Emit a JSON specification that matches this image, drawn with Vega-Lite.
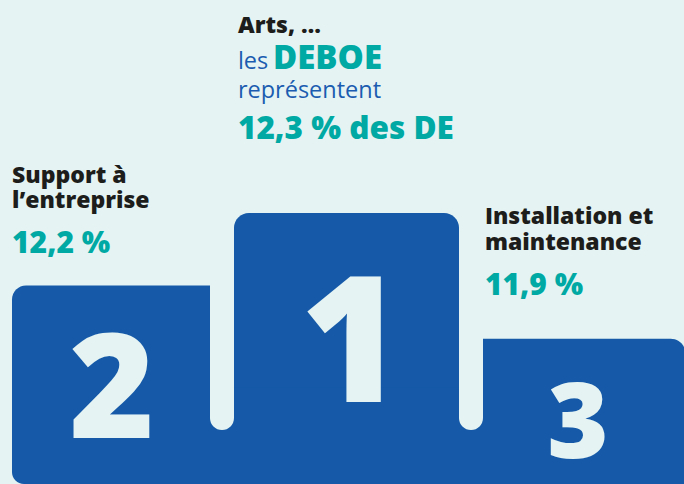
{
  "$schema": "https://vega.github.io/schema/vega-lite/v6.json",
  "width": 684,
  "height": 484,
  "autosize": {"type": "none"},
  "padding": 0,
  "background": "#e5f4f3",
  "config": {"view": {"stroke": null}, "text": {"font": "Open Sans"}},
  "data": {"values": [
    {"rang": "2", "categorie": ["Support à", "l’entreprise"], "valeur": 12.2, "libelle": "12,2 %", "hauteur": 41},
    {"rang": "1", "categorie": ["Arts, …"], "valeur": 12.3, "libelle": "12,3 % des DE", "hauteur": 56},
    {"rang": "3", "categorie": ["Installation et", "maintenance"], "valeur": 11.9, "libelle": "11,9 %", "hauteur": 30}
  ]},
  "layer": [
    {
      "transform": [{"filter": "datum.rang == '2'"}],
      "mark": {"type": "bar", "color": "#1559a8", "cornerRadiusTopLeft": 14, "cornerRadiusBottomLeft": 12},
      "encoding": {
        "x": {"field": "rang", "type": "nominal", "axis": null, "bandPosition": 0.1566,
          "scale": {"type": "band", "domain": ["2", "1", "3"], "range": [-27, 720], "paddingInner": 0, "paddingOuter": 0}},
        "x2": {"field": "rang", "bandPosition": 1},
        "y": {"field": "hauteur", "type": "quantitative", "axis": null, "scale": {"domain": [0, 100], "nice": false, "zero": false}},
        "y2": {"datum": 0}
      }
    },
    {
      "transform": [{"filter": "datum.rang == '1'"}],
      "mark": {"type": "bar", "color": "#1559a8", "cornerRadiusTopLeft": 15, "cornerRadiusTopRight": 15},
      "encoding": {
        "x": {"field": "rang", "type": "nominal", "axis": null, "bandPosition": 0.048},
        "x2": {"field": "rang", "bandPosition": 0.952},
        "y": {"field": "hauteur", "type": "quantitative", "axis": null},
        "y2": {"datum": 0}
      }
    },
    {
      "transform": [{"filter": "datum.rang == '1'"}],
      "mark": {"type": "bar", "color": "#1559a8"},
      "encoding": {
        "x": {"field": "rang", "type": "nominal", "axis": null, "bandPosition": 0},
        "x2": {"field": "rang", "bandPosition": 1},
        "y": {"datum": 20, "type": "quantitative", "axis": null},
        "y2": {"datum": 0}
      }
    },
    {
      "transform": [{"filter": "datum.rang == '3'"}],
      "mark": {"type": "bar", "color": "#1559a8", "cornerRadiusTopRight": 15},
      "encoding": {
        "x": {"field": "rang", "type": "nominal", "axis": null, "bandPosition": 0},
        "x2": {"field": "rang", "bandPosition": 0.862},
        "y": {"field": "hauteur", "type": "quantitative", "axis": null},
        "y2": {"datum": 0}
      }
    },
    {
      "transform": [{"filter": "datum.rang != '2'"}],
      "mark": {"type": "rule", "color": "#e5f4f3", "strokeWidth": 24, "strokeCap": "round"},
      "encoding": {
        "x": {"field": "rang", "type": "nominal", "axis": null, "bandPosition": 0},
        "y": {"datum": 62, "type": "quantitative", "axis": null},
        "y2": {"datum": 13.64}
      }
    },
    {
      "transform": [{"filter": "datum.rang == '2'"}],
      "mark": {"type": "text", "fontSize": 146, "fontWeight": 800, "color": "#e5f4f3", "align": "center", "baseline": "alphabetic"},
      "encoding": {
        "x": {"field": "rang", "type": "nominal", "axis": null, "bandPosition": 0.558},
        "y": {"datum": 9.5, "type": "quantitative", "axis": null},
        "text": {"field": "rang"}
      }
    },
    {
      "transform": [{"filter": "datum.rang == '1'"}],
      "mark": {"type": "text", "fontSize": 175, "fontWeight": 800, "color": "#e5f4f3", "align": "center", "baseline": "alphabetic"},
      "encoding": {
        "x": {"field": "rang", "type": "nominal", "axis": null, "bandPosition": 0.52},
        "y": {"datum": 16.94, "type": "quantitative", "axis": null},
        "text": {"field": "rang"}
      }
    },
    {
      "transform": [{"filter": "datum.rang == '3'"}],
      "mark": {"type": "text", "fontSize": 105, "fontWeight": 800, "color": "#e5f4f3", "align": "center", "baseline": "alphabetic"},
      "encoding": {
        "x": {"field": "rang", "type": "nominal", "axis": null, "bandPosition": 0.43},
        "y": {"datum": 5.37, "type": "quantitative", "axis": null},
        "text": {"field": "rang"}
      }
    },
    {
      "transform": [{"filter": "datum.rang == '1'"}],
      "mark": {"type": "text", "fontSize": 23, "fontWeight": 800, "color": "#1d1d1b", "align": "left", "baseline": "alphabetic"},
      "encoding": {
        "x": {"field": "rang", "type": "nominal", "axis": null, "bandPosition": 0.064},
        "y": {"datum": 93.18, "type": "quantitative", "axis": null},
        "text": {"field": "categorie"}
      }
    },
    {
      "transform": [{"filter": "datum.rang == '1'"}],
      "mark": {"type": "text", "fontSize": 23.5, "fontWeight": 400, "color": "#1b5cb0", "align": "left", "baseline": "alphabetic", "text": "les"},
      "encoding": {
        "x": {"field": "rang", "type": "nominal", "axis": null, "bandPosition": 0.064},
        "y": {"datum": 85.74, "type": "quantitative", "axis": null}
      }
    },
    {
      "transform": [{"filter": "datum.rang == '1'"}],
      "mark": {"type": "text", "fontSize": 33, "fontWeight": 800, "color": "#00a9a4", "align": "left", "baseline": "alphabetic", "text": "DEBOE"},
      "encoding": {
        "x": {"field": "rang", "type": "nominal", "axis": null, "bandPosition": 0.205},
        "y": {"datum": 85.74, "type": "quantitative", "axis": null}
      }
    },
    {
      "transform": [{"filter": "datum.rang == '1'"}],
      "mark": {"type": "text", "fontSize": 23.5, "fontWeight": 400, "color": "#1b5cb0", "align": "left", "baseline": "alphabetic", "text": "représentent"},
      "encoding": {
        "x": {"field": "rang", "type": "nominal", "axis": null, "bandPosition": 0.064},
        "y": {"datum": 79.75, "type": "quantitative", "axis": null}
      }
    },
    {
      "transform": [{"filter": "datum.rang == '1'"}],
      "mark": {"type": "text", "fontSize": 31.5, "fontWeight": 800, "color": "#00a9a4", "align": "left", "baseline": "alphabetic"},
      "encoding": {
        "x": {"field": "rang", "type": "nominal", "axis": null, "bandPosition": 0.064},
        "y": {"datum": 71.28, "type": "quantitative", "axis": null},
        "text": {"field": "libelle"}
      }
    },
    {
      "transform": [{"filter": "datum.rang == '2'"}],
      "mark": {"type": "text", "fontSize": 23, "fontWeight": 800, "color": "#1d1d1b", "align": "left", "baseline": "alphabetic", "lineHeight": 25},
      "encoding": {
        "x": {"field": "rang", "type": "nominal", "axis": null, "bandPosition": 0.1566},
        "y": {"datum": 62.19, "type": "quantitative", "axis": null},
        "text": {"field": "categorie"}
      }
    },
    {
      "transform": [{"filter": "datum.rang == '2'"}],
      "mark": {"type": "text", "fontSize": 30, "fontWeight": 800, "color": "#00a9a4", "align": "left", "baseline": "alphabetic"},
      "encoding": {
        "x": {"field": "rang", "type": "nominal", "axis": null, "bandPosition": 0.1566},
        "y": {"datum": 47.73, "type": "quantitative", "axis": null},
        "text": {"field": "libelle"}
      }
    },
    {
      "transform": [{"filter": "datum.rang == '3'"}],
      "mark": {"type": "text", "fontSize": 23, "fontWeight": 800, "color": "#1d1d1b", "align": "left", "baseline": "alphabetic", "lineHeight": 26},
      "encoding": {
        "x": {"field": "rang", "type": "nominal", "axis": null, "bandPosition": 0.056},
        "y": {"datum": 53.72, "type": "quantitative", "axis": null},
        "text": {"field": "categorie"}
      }
    },
    {
      "transform": [{"filter": "datum.rang == '3'"}],
      "mark": {"type": "text", "fontSize": 30, "fontWeight": 800, "color": "#00a9a4", "align": "left", "baseline": "alphabetic"},
      "encoding": {
        "x": {"field": "rang", "type": "nominal", "axis": null, "bandPosition": 0.056},
        "y": {"datum": 39.05, "type": "quantitative", "axis": null},
        "text": {"field": "libelle"}
      }
    }
  ]
}
